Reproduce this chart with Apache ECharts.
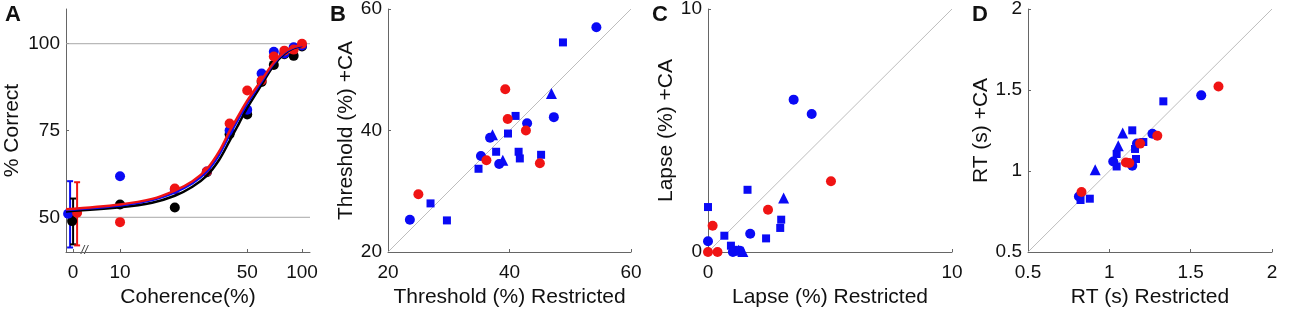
<!DOCTYPE html>
<html>
<head>
<meta charset="utf-8">
<script src="https://cdn.jsdelivr.net/npm/echarts@6/dist/echarts.min.js"></script>
<style>
html,body{margin:0;padding:0;background:#fff}
#main{width:1300px;height:314px}
</style>
</head>
<body>
<div id="main"></div>
<script>
// ---- panel A: psychometric data ----
const coherence = [0, 10, 20, 30, 40, 50, 60, 70, 80, 90, 100];
const correctBlack = [48.9, 53.7, 52.8, 63.0, 73.9, 79.6, 89.0, 93.9, 97.0, 96.5, 99.2];
const correctBlue  = [51.0, 61.8, 58.0, 63.2, 75.0, 81.0, 91.4, 97.7, 97.2, 99.0, 99.5];
const correctRed   = [51.3, 48.6, 58.3, 63.2, 77.0, 86.5, 89.4, 96.3, 98.0, 98.3, 100.0];
// error bars at 0% coherence [low, high]
const errBlack = [42.2, 55.4];
const errBlue  = [41.3, 60.4];
const errRed   = [41.9, 60.1];
// fitted curves
const fitCoh   = [0, 10, 15, 20, 25, 30, 35, 40, 45, 50, 60, 70, 80, 90, 100];
const fitBlack = [51.7, 52.9, 54.2, 56.2, 58.8, 62.0, 66.5, 72.0, 77.0, 81.5, 88.2, 93.8, 97.1, 98.7, 99.4];
const fitBlue  = [52.1, 53.4, 55.0, 57.2, 59.8, 63.2, 68.0, 73.8, 78.6, 82.8, 89.1, 94.3, 97.4, 98.9, 99.5];
const fitRed   = [52.3, 53.7, 55.3, 57.7, 60.4, 63.9, 68.9, 74.8, 79.5, 83.6, 89.6, 94.6, 97.6, 99.0, 99.6];
const refLinesA = [50, 100];
const ticksAx = [0, 10, 50, 100];
const ticksAy = [50, 75, 100];

// ---- panel B: threshold (%) restricted vs +CA ----
const thrBlueCircle = [[54.3,57.0],[47.3,42.2],[42.9,41.2],[36.8,38.8],[35.3,35.8],[38.3,34.5],[23.6,25.3]];
const thrBlueSquare = [[48.8,54.5],[41.0,42.4],[39.75,39.5],[37.8,36.5],[41.5,36.5],[41.7,35.4],[45.2,36.0],[34.9,33.7],[27.0,28.0],[29.7,25.2]];
const thrBlueTri    = [[46.9,46.1],[37.2,39.3],[38.9,35.1]];
const thrRedCircle  = [[25.0,29.5],[39.3,46.8],[39.7,41.9],[42.7,40.0],[36.2,35.1],[45.0,34.6]];
const ticksB = [20, 40, 60];

// ---- panel C: lapse (%) ----
const lapBlueCircle = [[3.51,6.27],[4.25,5.68],[1.73,0.75],[0.0,0.44],[1.02,0.0],[1.3,0.05]];
const lapBlueSquare = [[1.62,2.56],[0.0,1.85],[3.0,1.33],[2.96,0.99],[0.67,0.67],[2.38,0.56],[0.94,0.26],[1.05,0.09]];
const lapBlueTri    = [[3.1,2.22],[1.25,0.07],[1.43,0.02]];
const lapRedCircle  = [[5.04,2.91],[2.46,1.74],[0.19,1.08],[0.0,0.0],[0.39,0.0]];
const ticksC = [0, 10];

// ---- panel D: RT (s) ----
const rtBlueCircle = [[1.565,1.467],[1.265,1.230],[1.17,1.17],[1.024,1.059],[1.141,1.033],[0.813,0.843]];
const rtBlueSquare = [[1.332,1.430],[1.141,1.251],[1.209,1.179],[1.158,1.136],[1.045,1.105],[1.164,1.074],[1.045,1.028],[0.880,0.829],[0.823,0.821]];
const rtBlueTri    = [[1.082,1.235],[1.055,1.156],[0.913,1.008]];
const rtRedCircle  = [[1.671,1.522],[1.295,1.218],[1.189,1.169],[1.102,1.053],[1.123,1.049],[0.829,0.870]];
const ticksD = [0.5, 1, 1.5, 2];

const BLUE = '#0a0af5', RED = '#f01414', BLACK = '#000';
const AXIS_COLOR = '#666';
const FONT = 'Liberation Sans, Arial, sans-serif';

// panel A x axis: log10 of coherence, 0% shown before a break
const X_MIN = 0.703, X_MAX = 2.044, ZERO_POS = 0.742;
const cohPos = c => c === 0 ? ZERO_POS : Math.log10(c);

const grids = [
  {left: 66, top: 9, width: 244, height: 243},
  {left: 388, top: 9, width: 243, height: 243},
  {left: 708, top: 9, width: 244, height: 243},
  {left: 1028, top: 9, width: 244, height: 243}
].map(g => Object.assign(g, {outerBoundsMode: 'none'}));

function axis(idx, name, ticks, min, max, gap, isY, fmt) {
  return {
    type: 'value', gridIndex: idx, min: min, max: max,
    name: name, nameLocation: 'middle', nameGap: gap,
    nameTextStyle: {fontFamily: FONT, fontSize: 21, color: '#111'},
    axisLine: {show: true, onZero: false, lineStyle: {color: AXIS_COLOR, width: 1}},
    axisTick: {show: true, inside: true, length: 3, customValues: ticks.map(fmt || (v => v)), lineStyle: {color: AXIS_COLOR}},
    axisLabel: {
      show: true, customValues: ticks.map(fmt || (v => v)),
      formatter: fmt ? (v => { const i = ticks.map(fmt).findIndex(t => Math.abs(t - v) < 1e-6); return i >= 0 ? String(ticks[i]) : ''; }) : (v => String(v)),
      fontFamily: FONT, fontSize: 19, color: '#111', margin: isY ? 6 : 11
    },
    splitLine: {show: false}
  };
}

const xAxes = [
  axis(0, 'Coherence(%)', ticksAx, X_MIN, X_MAX, 31, false, cohPos),
  axis(1, 'Threshold (%) Restricted', ticksB, 20, 60, 31, false),
  axis(2, 'Lapse (%) Restricted', ticksC, 0, 10, 31, false),
  axis(3, 'RT (s) Restricted', ticksD, 0.5, 2, 31, false)
];
const yAxes = [
  axis(0, '% Correct', ticksAy, 40, 110, 43, true),
  axis(1, 'Threshold (%) +CA', ticksB, 20, 60, 28, true),
  axis(2, 'Lapse (%) +CA', ticksC, 0, 10, 28, true),
  axis(3, 'RT (s) +CA', ticksD, 0.5, 2, 32, true)
];

const series = [];

// panel A reference lines at 50 and 100
refLinesA.forEach(v => series.push({
  type: 'line', xAxisIndex: 0, yAxisIndex: 0, silent: true, symbol: 'none', z: 1,
  lineStyle: {color: '#a8a8a8', width: 1},
  data: [[X_MIN, v], [X_MAX, v]]
}));

// diagonal identity lines
[[1, ticksB], [2, ticksC], [3, ticksD]].forEach(([i, t]) => series.push({
  type: 'line', xAxisIndex: i, yAxisIndex: i, silent: true, symbol: 'none', z: 1,
  lineStyle: {color: '#bdbdbd', width: 1},
  data: [[t[0], t[0]], [t[t.length - 1], t[t.length - 1]]]
}));

// error bars at 0% coherence
function errorBar(color, bar, dx) {
  return {
    type: 'custom', xAxisIndex: 0, yAxisIndex: 0, silent: true,
    data: [[ZERO_POS, bar[0], bar[1]]],
    renderItem: function (params, api) {
      const lo = api.coord([api.value(0), api.value(1)]);
      const hi = api.coord([api.value(0), api.value(2)]);
      const x = lo[0] + dx, w = 3;
      const st = {stroke: color, lineWidth: 2};
      return {type: 'group', children: [
        {type: 'line', shape: {x1: x, y1: lo[1], x2: x, y2: hi[1]}, style: st},
        {type: 'line', shape: {x1: x - w, y1: lo[1], x2: x + w, y2: lo[1]}, style: st},
        {type: 'line', shape: {x1: x - w, y1: hi[1], x2: x + w, y2: hi[1]}, style: st}
      ]};
    }
  };
}
series.push(errorBar(BLUE, errBlue, -3));
series.push(errorBar(BLACK, errBlack, 0));
series.push(errorBar(RED, errRed, 4));

// fitted curves
[[fitBlack, BLACK], [fitBlue, BLUE], [fitRed, RED]].forEach(([ys, c]) => series.push({
  type: 'line', xAxisIndex: 0, yAxisIndex: 0, symbol: 'none', smooth: 0.35,
  lineStyle: {color: c, width: 2.5},
  data: fitCoh.map((cv, i) => [cv === 0 ? X_MIN : Math.log10(cv), ys[i]])
}));

// psychometric points
const zeroShift = {black: -1, blue: -5, red: 4};
[[correctBlack, BLACK, zeroShift.black], [correctBlue, BLUE, zeroShift.blue], [correctRed, RED, zeroShift.red]].forEach(([ys, c, dx]) => series.push({
  type: 'scatter', xAxisIndex: 0, yAxisIndex: 0, symbol: 'circle', symbolSize: 10, clip: false,
  itemStyle: {color: c, opacity: 1},
  data: coherence.map((cv, i) => cv === 0 ? {value: [cohPos(cv), ys[i]], symbolOffset: [dx, 0]} : [cohPos(cv), ys[i]])
}));

// scatter panels
function pts(i, data, color, symbol, size) {
  series.push({
    type: 'scatter', xAxisIndex: i, yAxisIndex: i, symbol: symbol, symbolSize: size, clip: false, z: 3,
    itemStyle: {color: color, opacity: 1}, data: data
  });
}
[[1, thrBlueSquare, thrBlueTri, thrBlueCircle, thrRedCircle],
 [2, lapBlueSquare, lapBlueTri, lapBlueCircle, lapRedCircle],
 [3, rtBlueSquare, rtBlueTri, rtBlueCircle, rtRedCircle]].forEach(([i, sq, tri, bc, rc]) => {
  pts(i, sq, BLUE, 'rect', 8);
  pts(i, tri, BLUE, 'triangle', 11);
  pts(i, bc, BLUE, 'circle', 10);
  pts(i, rc, RED, 'circle', 10);
});

const chart = echarts.init(document.getElementById('main'), null, {renderer: 'canvas'});
chart.setOption({
  backgroundColor: '#fff',
  animation: false,
  grid: grids,
  xAxis: xAxes,
  yAxis: yAxes,
  series: series
});

// panel letters and the axis break mark
const brk = chart.convertToPixel({gridIndex: 0}, [ZERO_POS, 40]);
const letter = (t, x) => ({type: 'text', left: x, top: 4, style: {text: t, font: 'bold 22px ' + FONT, fill: '#111'}});
chart.setOption({
  graphic: [
    letter('A', 5), letter('B', 330), letter('C', 652), letter('D', 972),
    {type: 'text', x: brk[0] + 8, y: brk[1] - 7, style: {text: '//', font: 'italic 12px ' + FONT, fill: '#333'}}
  ]
});
</script>
</body>
</html>
